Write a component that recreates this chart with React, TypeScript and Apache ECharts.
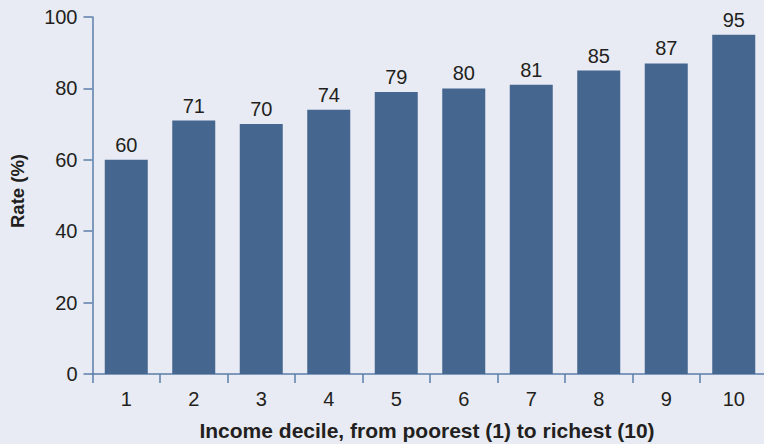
import React, { useEffect, useRef } from "react";
import * as echarts from "echarts";

const categories = ["1", "2", "3", "4", "5", "6", "7", "8", "9", "10"];
const rates = [60, 71, 70, 74, 79, 80, 81, 85, 87, 95];
const yTicks = { min: 0, max: 100, interval: 20 };

const FONT = "Liberation Sans, Arial, sans-serif";
const AXIS = "#5b7ea8";
const TEXT = "#231f20";

export default function App() {
  const ref = useRef<HTMLDivElement>(null);
  useEffect(() => {
    const chart = echarts.init(ref.current!, null, { renderer: "svg" });
    chart.setOption({
      animation: false,
      backgroundColor: "#e8ebf3",
      textStyle: { fontFamily: FONT },
      grid: { left: 92.5, top: 17, width: 675, height: 357, containLabel: false, outerBoundsMode: "none" },
      xAxis: {
        type: "category",
        data: categories,
        name: "Income decile, from poorest (1) to richest (10)",
        nameLocation: "middle",
        nameGap: 46,
        nameTextStyle: { fontFamily: FONT, fontSize: 21, fontWeight: "bold", color: TEXT, padding: [0, 6, 0, 0] },
        axisLine: { lineStyle: { color: AXIS, width: 1.5 } },
        axisTick: { show: true, length: 9, lineStyle: { color: AXIS, width: 1.5 } },
        axisLabel: { fontFamily: FONT, fontSize: 20, color: TEXT, margin: 15 },
      },
      yAxis: {
        type: "value",
        min: yTicks.min,
        max: yTicks.max,
        interval: yTicks.interval,
        name: "Rate (%)",
        nameLocation: "middle",
        nameGap: 66,
        nameRotate: 90,
        nameTextStyle: { fontFamily: FONT, fontSize: 18.5, fontWeight: "bold", color: TEXT, padding: [0, 0, 0, 9] },
        splitLine: { show: false },
        axisLine: { show: true, lineStyle: { color: AXIS, width: 1.5 } },
        axisTick: { show: true, length: 9, lineStyle: { color: AXIS, width: 1.5 } },
        axisLabel: { fontFamily: FONT, fontSize: 20, color: TEXT, margin: 15 },
      },
      series: [
        {
          type: "bar",
          data: rates,
          barWidth: 43,
          itemStyle: { color: "#44668f" },
          label: { show: true, position: "top", distance: 5, fontFamily: FONT, fontSize: 20, color: TEXT },
        },
      ],
    });
    return () => chart.dispose();
  }, []);
  return <div ref={ref} style={{ position: "fixed", left: 0, top: 0, width: 764, height: 444 }} />;
}
